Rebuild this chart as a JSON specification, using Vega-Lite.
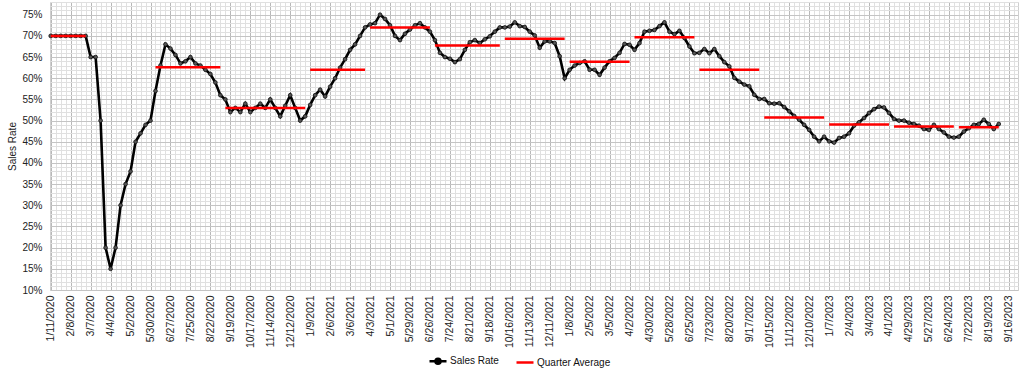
{
"$schema": "https://vega.github.io/schema/vega-lite/v6.json",
"width": 968, "height": 288,
"autosize": {"type": "none"},
"padding": {"left": 50, "top": 2, "right": 6, "bottom": 79},
"background": "white",
"config": {"view": {"stroke": "#cfcfcf", "strokeWidth": 1}, "font": "Liberation Sans"},
"datasets": {
"rate": [
{"date":"2020-01-11","rate":0.70},{"date":"2020-01-18","rate":0.70},{"date":"2020-01-25","rate":0.70},{"date":"2020-02-01","rate":0.70},{"date":"2020-02-08","rate":0.70},{"date":"2020-02-15","rate":0.70},{"date":"2020-02-22","rate":0.70},{"date":"2020-02-29","rate":0.70},
{"date":"2020-03-07","rate":0.65},{"date":"2020-03-14","rate":0.65},{"date":"2020-03-21","rate":0.50},{"date":"2020-03-28","rate":0.20},
{"date":"2020-04-04","rate":0.15},{"date":"2020-04-11","rate":0.20},{"date":"2020-04-18","rate":0.30},{"date":"2020-04-25","rate":0.35},
{"date":"2020-05-02","rate":0.38},{"date":"2020-05-09","rate":0.45},{"date":"2020-05-16","rate":0.47},{"date":"2020-05-23","rate":0.49},{"date":"2020-05-30","rate":0.50},
{"date":"2020-06-06","rate":0.57},{"date":"2020-06-13","rate":0.63},{"date":"2020-06-20","rate":0.68},{"date":"2020-06-27","rate":0.67},
{"date":"2020-07-04","rate":0.655},{"date":"2020-07-11","rate":0.635},{"date":"2020-07-18","rate":0.64},{"date":"2020-07-25","rate":0.65},
{"date":"2020-08-01","rate":0.635},{"date":"2020-08-08","rate":0.63},{"date":"2020-08-15","rate":0.62},{"date":"2020-08-22","rate":0.61},{"date":"2020-08-29","rate":0.59},
{"date":"2020-09-05","rate":0.56},{"date":"2020-09-12","rate":0.55},{"date":"2020-09-19","rate":0.52},{"date":"2020-09-26","rate":0.53},
{"date":"2020-10-03","rate":0.52},{"date":"2020-10-10","rate":0.54},{"date":"2020-10-17","rate":0.52},{"date":"2020-10-24","rate":0.53},{"date":"2020-10-31","rate":0.54},
{"date":"2020-11-07","rate":0.53},{"date":"2020-11-14","rate":0.55},{"date":"2020-11-21","rate":0.53},{"date":"2020-11-28","rate":0.51},
{"date":"2020-12-05","rate":0.535},{"date":"2020-12-12","rate":0.56},{"date":"2020-12-19","rate":0.53},{"date":"2020-12-26","rate":0.50},
{"date":"2021-01-02","rate":0.51},{"date":"2021-01-09","rate":0.537},{"date":"2021-01-16","rate":0.56},{"date":"2021-01-23","rate":0.573},{"date":"2021-01-30","rate":0.557},
{"date":"2021-02-06","rate":0.58},{"date":"2021-02-13","rate":0.60},{"date":"2021-02-20","rate":0.625},{"date":"2021-02-27","rate":0.645},
{"date":"2021-03-06","rate":0.667},{"date":"2021-03-13","rate":0.68},{"date":"2021-03-20","rate":0.70},{"date":"2021-03-27","rate":0.72},
{"date":"2021-04-03","rate":0.727},{"date":"2021-04-10","rate":0.73},{"date":"2021-04-17","rate":0.75},{"date":"2021-04-24","rate":0.74},
{"date":"2021-05-01","rate":0.725},{"date":"2021-05-08","rate":0.70},{"date":"2021-05-15","rate":0.69},{"date":"2021-05-22","rate":0.705},{"date":"2021-05-29","rate":0.715},
{"date":"2021-06-05","rate":0.725},{"date":"2021-06-12","rate":0.73},{"date":"2021-06-19","rate":0.72},{"date":"2021-06-26","rate":0.71},
{"date":"2021-07-03","rate":0.69},{"date":"2021-07-10","rate":0.66},{"date":"2021-07-17","rate":0.65},{"date":"2021-07-24","rate":0.646},{"date":"2021-07-31","rate":0.638},
{"date":"2021-08-07","rate":0.645},{"date":"2021-08-14","rate":0.667},{"date":"2021-08-21","rate":0.685},{"date":"2021-08-28","rate":0.69},
{"date":"2021-09-04","rate":0.683},{"date":"2021-09-11","rate":0.692},{"date":"2021-09-18","rate":0.699},{"date":"2021-09-25","rate":0.71},
{"date":"2021-10-02","rate":0.72},{"date":"2021-10-09","rate":0.72},{"date":"2021-10-16","rate":0.722},{"date":"2021-10-23","rate":0.732},{"date":"2021-10-30","rate":0.723},
{"date":"2021-11-06","rate":0.721},{"date":"2021-11-13","rate":0.71},{"date":"2021-11-20","rate":0.701},{"date":"2021-11-27","rate":0.672},
{"date":"2021-12-04","rate":0.687},{"date":"2021-12-11","rate":0.687},{"date":"2021-12-18","rate":0.683},{"date":"2021-12-25","rate":0.652},
{"date":"2022-01-01","rate":0.60},{"date":"2022-01-08","rate":0.62},{"date":"2022-01-15","rate":0.63},{"date":"2022-01-22","rate":0.636},{"date":"2022-01-29","rate":0.64},
{"date":"2022-02-05","rate":0.62},{"date":"2022-02-12","rate":0.62},{"date":"2022-02-19","rate":0.608},{"date":"2022-02-26","rate":0.625},
{"date":"2022-03-05","rate":0.64},{"date":"2022-03-12","rate":0.648},{"date":"2022-03-19","rate":0.66},{"date":"2022-03-26","rate":0.681},
{"date":"2022-04-02","rate":0.679},{"date":"2022-04-09","rate":0.667},{"date":"2022-04-16","rate":0.683},{"date":"2022-04-23","rate":0.71},{"date":"2022-04-30","rate":0.712},
{"date":"2022-05-07","rate":0.714},{"date":"2022-05-14","rate":0.723},{"date":"2022-05-21","rate":0.732},{"date":"2022-05-28","rate":0.71},
{"date":"2022-06-04","rate":0.704},{"date":"2022-06-11","rate":0.712},{"date":"2022-06-18","rate":0.695},{"date":"2022-06-25","rate":0.675},
{"date":"2022-07-02","rate":0.659},{"date":"2022-07-09","rate":0.66},{"date":"2022-07-16","rate":0.669},{"date":"2022-07-23","rate":0.659},{"date":"2022-07-30","rate":0.669},
{"date":"2022-08-06","rate":0.652},{"date":"2022-08-13","rate":0.638},{"date":"2022-08-20","rate":0.628},{"date":"2022-08-27","rate":0.601},
{"date":"2022-09-03","rate":0.592},{"date":"2022-09-10","rate":0.585},{"date":"2022-09-17","rate":0.581},{"date":"2022-09-24","rate":0.561},
{"date":"2022-10-01","rate":0.551},{"date":"2022-10-08","rate":0.551},{"date":"2022-10-15","rate":0.541},{"date":"2022-10-22","rate":0.54},{"date":"2022-10-29","rate":0.541},
{"date":"2022-11-05","rate":0.532},{"date":"2022-11-12","rate":0.522},{"date":"2022-11-19","rate":0.511},{"date":"2022-11-26","rate":0.502},
{"date":"2022-12-03","rate":0.49},{"date":"2022-12-10","rate":0.478},{"date":"2022-12-17","rate":0.462},{"date":"2022-12-24","rate":0.451},{"date":"2022-12-31","rate":0.462},
{"date":"2023-01-07","rate":0.451},{"date":"2023-01-14","rate":0.448},{"date":"2023-01-21","rate":0.459},{"date":"2023-01-28","rate":0.462},
{"date":"2023-02-04","rate":0.47},{"date":"2023-02-11","rate":0.488},{"date":"2023-02-18","rate":0.496},{"date":"2023-02-25","rate":0.506},
{"date":"2023-03-04","rate":0.518},{"date":"2023-03-11","rate":0.527},{"date":"2023-03-18","rate":0.533},{"date":"2023-03-25","rate":0.531},
{"date":"2023-04-01","rate":0.518},{"date":"2023-04-08","rate":0.504},{"date":"2023-04-15","rate":0.50},{"date":"2023-04-22","rate":0.50},{"date":"2023-04-29","rate":0.495},
{"date":"2023-05-06","rate":0.492},{"date":"2023-05-13","rate":0.488},{"date":"2023-05-20","rate":0.48},{"date":"2023-05-27","rate":0.478},
{"date":"2023-06-03","rate":0.49},{"date":"2023-06-10","rate":0.48},{"date":"2023-06-17","rate":0.472},{"date":"2023-06-24","rate":0.462},
{"date":"2023-07-01","rate":0.46},{"date":"2023-07-08","rate":0.462},{"date":"2023-07-15","rate":0.474},{"date":"2023-07-22","rate":0.482},{"date":"2023-07-29","rate":0.49},
{"date":"2023-08-05","rate":0.492},{"date":"2023-08-12","rate":0.502},{"date":"2023-08-19","rate":0.492},{"date":"2023-08-26","rate":0.48},
{"date":"2023-09-02","rate":0.492}
],
"avg": [
{"start":"2020-01-11","end":"2020-02-29","avg":0.70},
{"start":"2020-06-06","end":"2020-09-05","avg":0.626},
{"start":"2020-09-12","end":"2021-01-02","avg":0.530},
{"start":"2021-01-09","end":"2021-03-27","avg":0.620},
{"start":"2021-04-03","end":"2021-06-26","avg":0.720},
{"start":"2021-07-03","end":"2021-10-02","avg":0.677},
{"start":"2021-10-09","end":"2022-01-01","avg":0.693},
{"start":"2022-01-08","end":"2022-04-02","avg":0.639},
{"start":"2022-04-09","end":"2022-07-02","avg":0.697},
{"start":"2022-07-09","end":"2022-10-01","avg":0.620},
{"start":"2022-10-08","end":"2022-12-31","avg":0.507},
{"start":"2023-01-07","end":"2023-04-01","avg":0.491},
{"start":"2023-04-08","end":"2023-07-01","avg":0.486},
{"start":"2023-07-08","end":"2023-09-02","avg":0.484}
]
},
"resolve": {"axis": {"x": "independent", "y": "independent"}},
"layer": [
{
"data": {"name": "rate"},
"mark": {"type": "line", "strokeWidth": 2.6},
"encoding": {
"x": {"field": "date", "type": "temporal",
"scale": {"type": "utc", "domain": [{"year": 2020, "month": 1, "date": 10, "utc": true}, {"year": 2023, "month": 9, "date": 29, "utc": true}]},
"axis": {"orient": "bottom", "values": {"expr": "sequence(utc(2020,0,11), utc(2023,8,30), 604800000)"}, "grid": true, "gridColor": "#e0e0e0", "gridWidth": 1, "labels": false, "ticks": false, "domain": false, "title": null}},
"y": {"field": "rate", "type": "quantitative",
"scale": {"domain": [0.1, 0.78], "nice": false, "zero": false},
"axis": {"orient": "left", "values": {"expr": "sequence(0.1, 0.785, 0.01)"}, "grid": true, "gridColor": "#e0e0e0", "gridWidth": 1, "labels": false, "ticks": false, "domain": false, "title": null}},
"color": {"datum": "Sales Rate", "type": "nominal",
"scale": {"domain": ["Sales Rate", "Quarter Average"], "range": ["#000000", "#ff0000"]},
"legend": {"orient": "none", "legendX": 378, "legendY": 349, "direction": "horizontal", "title": null,
"symbolType": "stroke", "symbolSize": 289, "symbolStrokeWidth": 2.5, "labelFontSize": 10, "labelFont": "Liberation Sans", "labelColor": "#111", "columnPadding": 12, "labelOffset": 2,
"encode": {"symbols": {"update": {"shape": {"signal": "datum.value === 'Sales Rate' ? 'M-1,0L1,0M0.3,0A0.3,0.3,0,1,1,-0.3,0A0.3,0.3,0,1,1,0.3,0' : 'stroke'"}}}}}}
}
},
{
"data": {"name": "rate"},
"mark": {"type": "circle", "size": 14, "fill": "#555555", "stroke": "#111111", "strokeWidth": 0.8, "opacity": 1},
"encoding": {
"x": {"field": "date", "type": "temporal", "axis": null},
"y": {"field": "rate", "type": "quantitative", "axis": null}
}
},
{
"data": {"name": "avg"},
"mark": {"type": "rule", "strokeWidth": 2.5, "strokeCap": "butt"},
"encoding": {
"x": {"field": "start", "type": "temporal",
"axis": {"orient": "bottom", "values": {"expr": "sequence(utc(2020,0,11), utc(2023,8,17), 2419200000)"}, "format": "%-m/%-d/%Y", "labelAngle": -90, "labelFontSize": 10.5, "labelColor": "#222", "labelPadding": 5, "ticks": false, "domain": false, "grid": true, "gridColor": "#b8b8b8", "gridWidth": 1, "title": null, "labelOverlap": false, "labelBound": false, "labelFlush": false}},
"x2": {"field": "end"},
"y": {"field": "avg", "type": "quantitative",
"axis": {"orient": "left", "values": [0.1, 0.15, 0.2, 0.25, 0.3, 0.35, 0.4, 0.45, 0.5, 0.55, 0.6, 0.65, 0.7, 0.75], "format": ".0%", "labelFontSize": 10, "labelColor": "#222", "labelPadding": 8, "ticks": false, "domain": false, "grid": true, "gridColor": "#c4c4c4", "gridWidth": 1, "title": "Sales Rate", "titleFontSize": 10, "titleFontWeight": "normal", "titleColor": "#222", "titlePadding": 4}},
"color": {"datum": "Quarter Average", "type": "nominal"}
}
}
]
}
